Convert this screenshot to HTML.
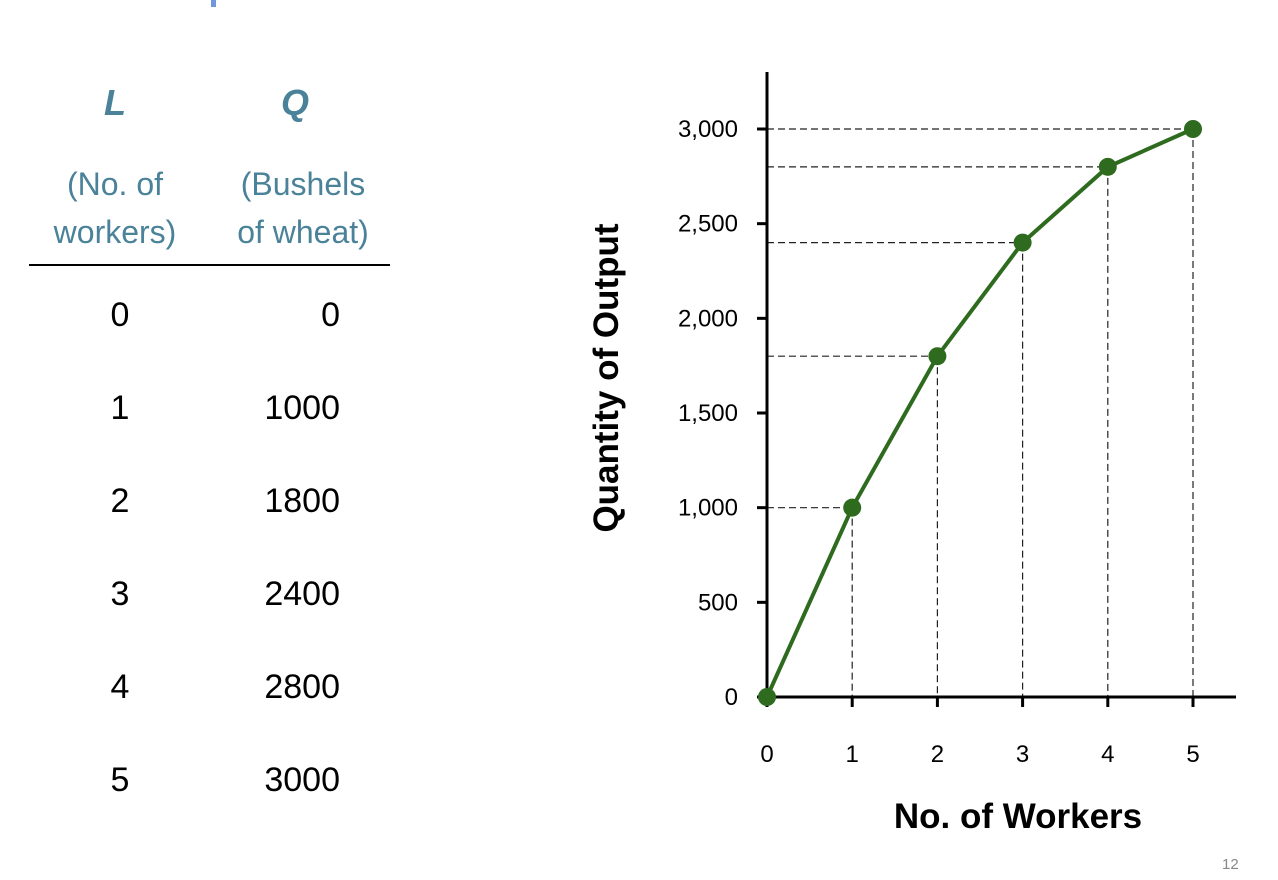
<!DOCTYPE html>
<html><head><meta charset="utf-8"><style>
body{margin:0;width:1278px;height:880px;background:#fff;overflow:hidden;position:relative;font-family:"Liberation Sans",sans-serif}
.t{position:absolute;color:#000;font-size:34px;text-align:center}
.h{position:absolute;color:#4a8299;text-align:center}
</style></head><body>
<div style="position:absolute;left:211px;top:0;width:5px;height:7px;background:#7096dc"></div>
<div class="h" style="left:60px;top:82px;width:110px;font-size:36px;font-weight:bold;font-style:italic">L</div>
<div class="h" style="left:240px;top:82px;width:110px;font-size:36px;font-weight:bold;font-style:italic">Q</div>
<div class="h" style="left:30px;top:160px;width:170px;font-size:32px;line-height:48px">(No. of<br>workers)</div>
<div class="h" style="left:208px;top:160px;width:190px;font-size:32px;line-height:48px">(Bushels<br>of wheat)</div>
<div style="position:absolute;left:29px;top:264px;width:361px;height:1.5px;background:#000"></div>
<div id="tbl"></div>
<svg id="chart" width="1278" height="880" style="position:absolute;left:0;top:0"></svg>
<div style="position:absolute;left:1222px;top:856px;font-size:15px;color:#888">12</div>
<script>
const workers=[0,1,2,3,4,5];
const output=[0,1000,1800,2400,2800,3000];
const yTicks=[0,500,1000,1500,2000,2500,3000];
const yTickLabels=["0","500","1,000","1,500","2,000","2,500","3,000"];
const tbl=document.getElementById('tbl');
workers.forEach((w,i)=>{
  const top=296+i*93;
  const a=document.createElement('div');a.className='t';a.style.left='80px';a.style.top=top+'px';a.style.width='80px';a.textContent=w;
  
  
  const b=document.createElement('div');b.className='t';b.style.left='230px';b.style.top=top+'px';b.style.width='110px';b.style.textAlign='right';b.textContent=output[i];
  
  
  tbl.appendChild(a);tbl.appendChild(b);
});
const NS='http://www.w3.org/2000/svg';const svg=document.getElementById('chart');
const X=v=>767+v*85.2, Y=v=>697-v*(568/3000);
function el(t,at,name){const e=document.createElementNS(NS,t);for(const k in at)e.setAttribute(k,at[k]);


svg.appendChild(e);return e;}
workers.forEach((w,i)=>{if(i==0)return;
el('line',{x1:767,y1:Y(output[i]),x2:X(w),y2:Y(output[i]),stroke:'#222','stroke-width':1.2,'stroke-dasharray':'7,4'},'h-guide-'+w);
el('line',{x1:X(w),y1:Y(output[i]),x2:X(w),y2:697,stroke:'#222','stroke-width':1.2,'stroke-dasharray':'7,4'},'v-guide-'+w);});
el('line',{x1:767,y1:72,x2:767,y2:699,stroke:'#000','stroke-width':3},'y-axis');
el('line',{x1:760,y1:697,x2:1236,y2:697,stroke:'#000','stroke-width':3},'x-axis');
yTicks.forEach((v,i)=>{el('line',{x1:757,y1:Y(v),x2:767,y2:Y(v),stroke:'#000','stroke-width':3},'y-tick');
const t=el('text',{x:738,y:Y(v)+8,'text-anchor':'end','font-size':24,'font-family':'Liberation Sans'},'y-tick-label');t.textContent=yTickLabels[i];});
workers.forEach(w=>{el('line',{x1:X(w),y1:697,x2:X(w),y2:707,stroke:'#000','stroke-width':3},'x-tick');
const t=el('text',{x:X(w),y:762,'text-anchor':'middle','font-size':24,'font-family':'Liberation Sans'},'x-tick-label');t.textContent=w;});
el('polyline',{points:workers.map((w,i)=>X(w)+','+Y(output[i])).join(' '),fill:'none',stroke:'#2e6b1f','stroke-width':4},'output-line');
workers.forEach((w,i)=>el('circle',{cx:X(w),cy:Y(output[i]),r:9,fill:'#2e6b1f'},'point-'+w));
const xt=el('text',{x:1018,y:828,'text-anchor':'middle','font-size':35,'font-weight':'bold','font-family':'Liberation Sans'},'x-axis-title');xt.textContent='No. of Workers';
const yt=el('text',{x:0,y:0,'text-anchor':'middle','font-size':35,'font-weight':'bold','font-family':'Liberation Sans',transform:'translate(618,378) rotate(-90)'},'y-axis-title');yt.textContent='Quantity of Output';
</script>
</body></html>
